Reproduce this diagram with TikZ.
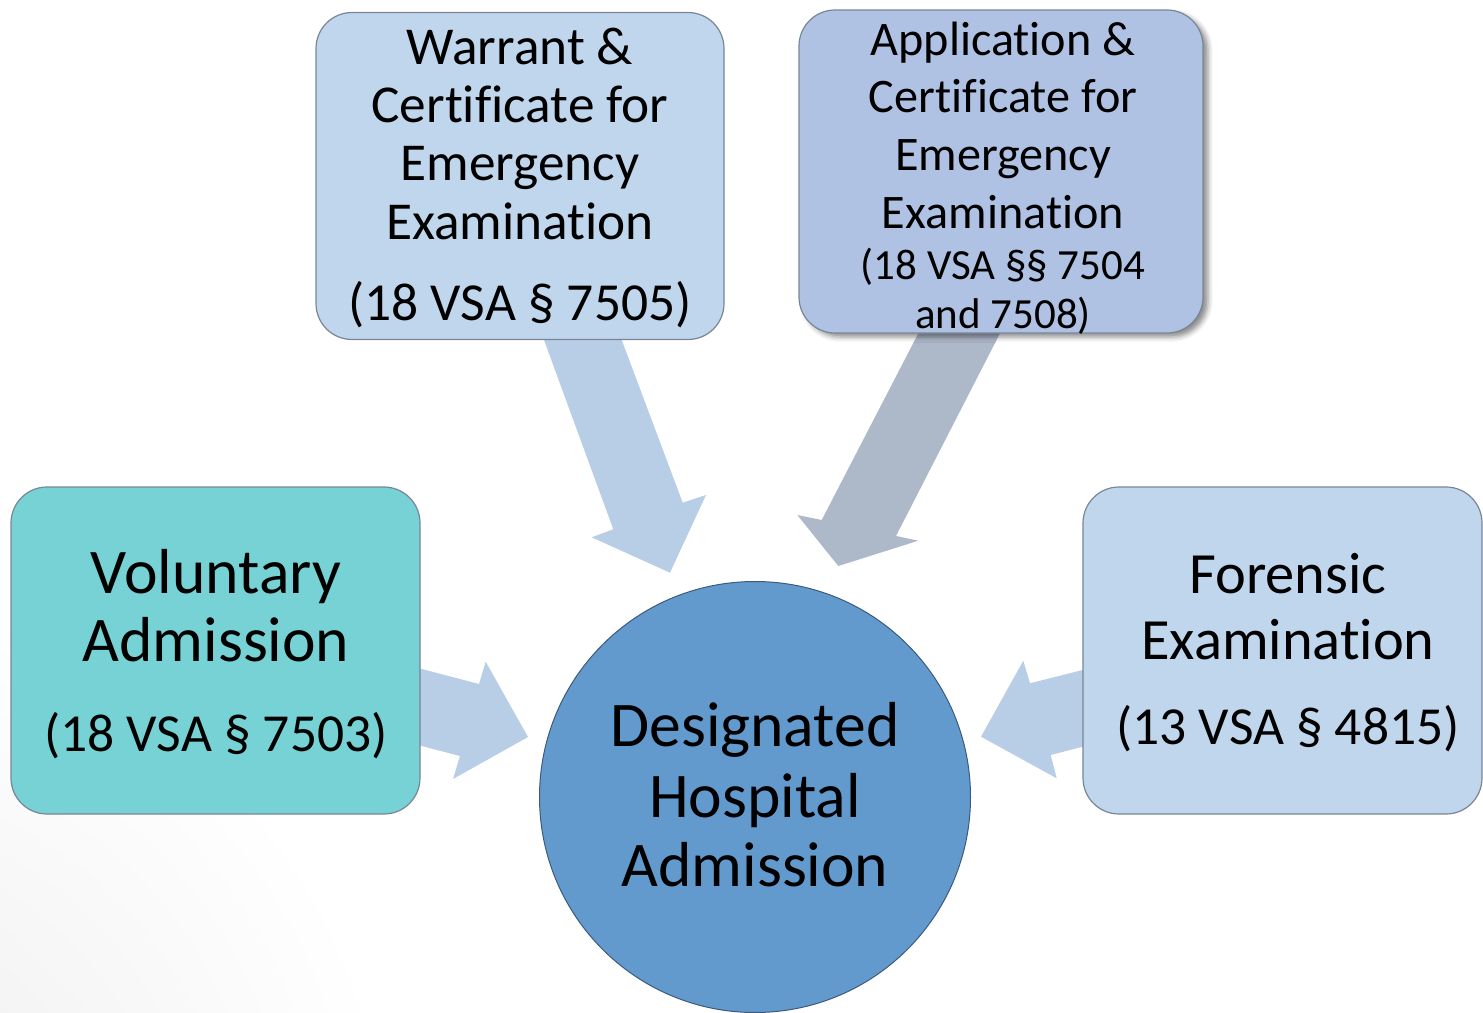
\documentclass[tikz,border=0pt]{standalone}
\usepackage{fontspec}
\setmainfont{Carlito}[Ligatures={NoCommon}]
\usetikzlibrary{shadows.blur,backgrounds}
\definecolor{warrantc}{RGB}{191,214,236}
\definecolor{appc}{RGB}{176,194,227}
\definecolor{volc}{RGB}{118,210,212}
\definecolor{forc}{RGB}{191,214,236}
\definecolor{circc}{RGB}{99,154,206}
\definecolor{arrowc}{RGB}{184,205,230}
\definecolor{apparrowc}{RGB}{173,184,201}
\definecolor{boxline}{RGB}{120,134,150}
\definecolor{circline}{RGB}{60,90,125}
\tikzset{
  roundbox/.style={rectangle, rounded corners=36pt, draw=boxline, line width=1.2pt,
    minimum width=408pt, minimum height=327pt, inner sep=0pt},
  lbl/.style={anchor=base, inner sep=0pt, text=black},
}
\newcommand{\fs}[1]{\fontsize{#1}{#1}\selectfont}
\begin{document}
\begin{tikzpicture}[x=1pt,y=-1pt]
\useasboundingbox (0,0) rectangle (1483,1012);
% faint corner vignette
\shade[inner color=black!7, outer color=white] (-160,1170) circle (560);

% boxes
\node[roundbox, fill=warrantc] (warrant) at (520,176) {};
\node[roundbox, fill=appc, minimum width=404pt, minimum height=323pt,
      blur shadow={shadow xshift=5pt, shadow yshift=-4pt, shadow blur radius=5pt, shadow opacity=45}] (app) at (1001,171.5) {};
\node[roundbox, fill=volc, minimum width=409pt] (vol) at (215.5,650.5) {};
\node[roundbox, fill=forc, minimum width=399pt] (for) at (1282.5,650.5) {};
\node[circle, fill=circc, draw=circline, line width=1pt, minimum size=431pt, inner sep=0pt] (hosp) at (755,797) {};

% block arrows (behind the shapes)
\coordinate (tipV) at (528,737);
\coordinate (tipF) at (981,736.7);
\coordinate (tipW) at (670,572.7);
\coordinate (tipA) at (838.3,566);
\begin{scope}[on background layer]
\fill[arrowc] (400,663.3) -- (479,684) -- (485.7,661.7) -- (tipV) -- (453,779) -- (460,756) -- (400,740.3) -- cycle;
\fill[arrowc] (1100,665.6) -- (1030,683.3) -- (1023.3,660.7) -- (tipF) -- (1056.7,778.3) -- (1050.7,755) -- (1100,742.2) -- cycle;
\fill[arrowc] (536.7,320) -- (613.3,529.3) -- (591.7,537.3) -- (tipW) -- (706,495) -- (682.7,502.7) -- (614.2,320) -- cycle;
\fill[apparrowc] (925.2,320) -- (821.7,520) -- (797.3,515) -- (tipA) -- (918.3,540.7) -- (896,536) -- (1006.8,320) -- cycle;
\end{scope}

% texts
\node[lbl, font=\fs{53.3}] (w1) at (520,64) {Warrant \&};
\node[lbl, font=\fs{53.3}] (w2) at (520,122) {Certificate for};
\node[lbl, font=\fs{53.3}] (w3) at (520,180) {Emergency};
\node[lbl, font=\fs{53.3}] (w4) at (520,239) {Examination};
\node[lbl, font=\fs{53.5}] (w5) at (520,320) {(18 VSA § 7505)};

\node[lbl, font=\fs{48.2}] (a1) at (1003,55) {Application \&};
\node[lbl, font=\fs{48.2}] (a2) at (1003,112) {Certificate for};
\node[lbl, font=\fs{48.2}] (a3) at (1003,170) {Emergency};
\node[lbl, font=\fs{48.2}] (a4) at (1003,228) {Examination};
\node[lbl, font=\fs{43}] (a5) at (1003,279) {(18 VSA §§ 7504};
\node[lbl, font=\fs{43}] (a6) at (1003,328) {and 7508)};

\node[lbl, font=\fs{63.6}] (v1) at (216,593) {Voluntary};
\node[lbl, font=\fs{63.6}] (v2) at (216,661) {Admission};
\node[lbl, font=\fs{53.5}] (v3) at (216,751) {(18 VSA § 7503)};

\node[lbl, font=\fs{58.4}] (f1) at (1288,593) {Forensic};
\node[lbl, font=\fs{58.4}] (f2) at (1288,659) {Examination};
\node[lbl, font=\fs{53.5}] (f3) at (1288,744) {(13 VSA § 4815)};

\node[lbl, font=\fs{63.6}] (h1) at (755,746) {Designated};
\node[lbl, font=\fs{63.6}] (h2) at (755,817) {Hospital};
\node[lbl, font=\fs{63.6}] (h3) at (755,886) {Admission};
\end{tikzpicture}
\end{document}
